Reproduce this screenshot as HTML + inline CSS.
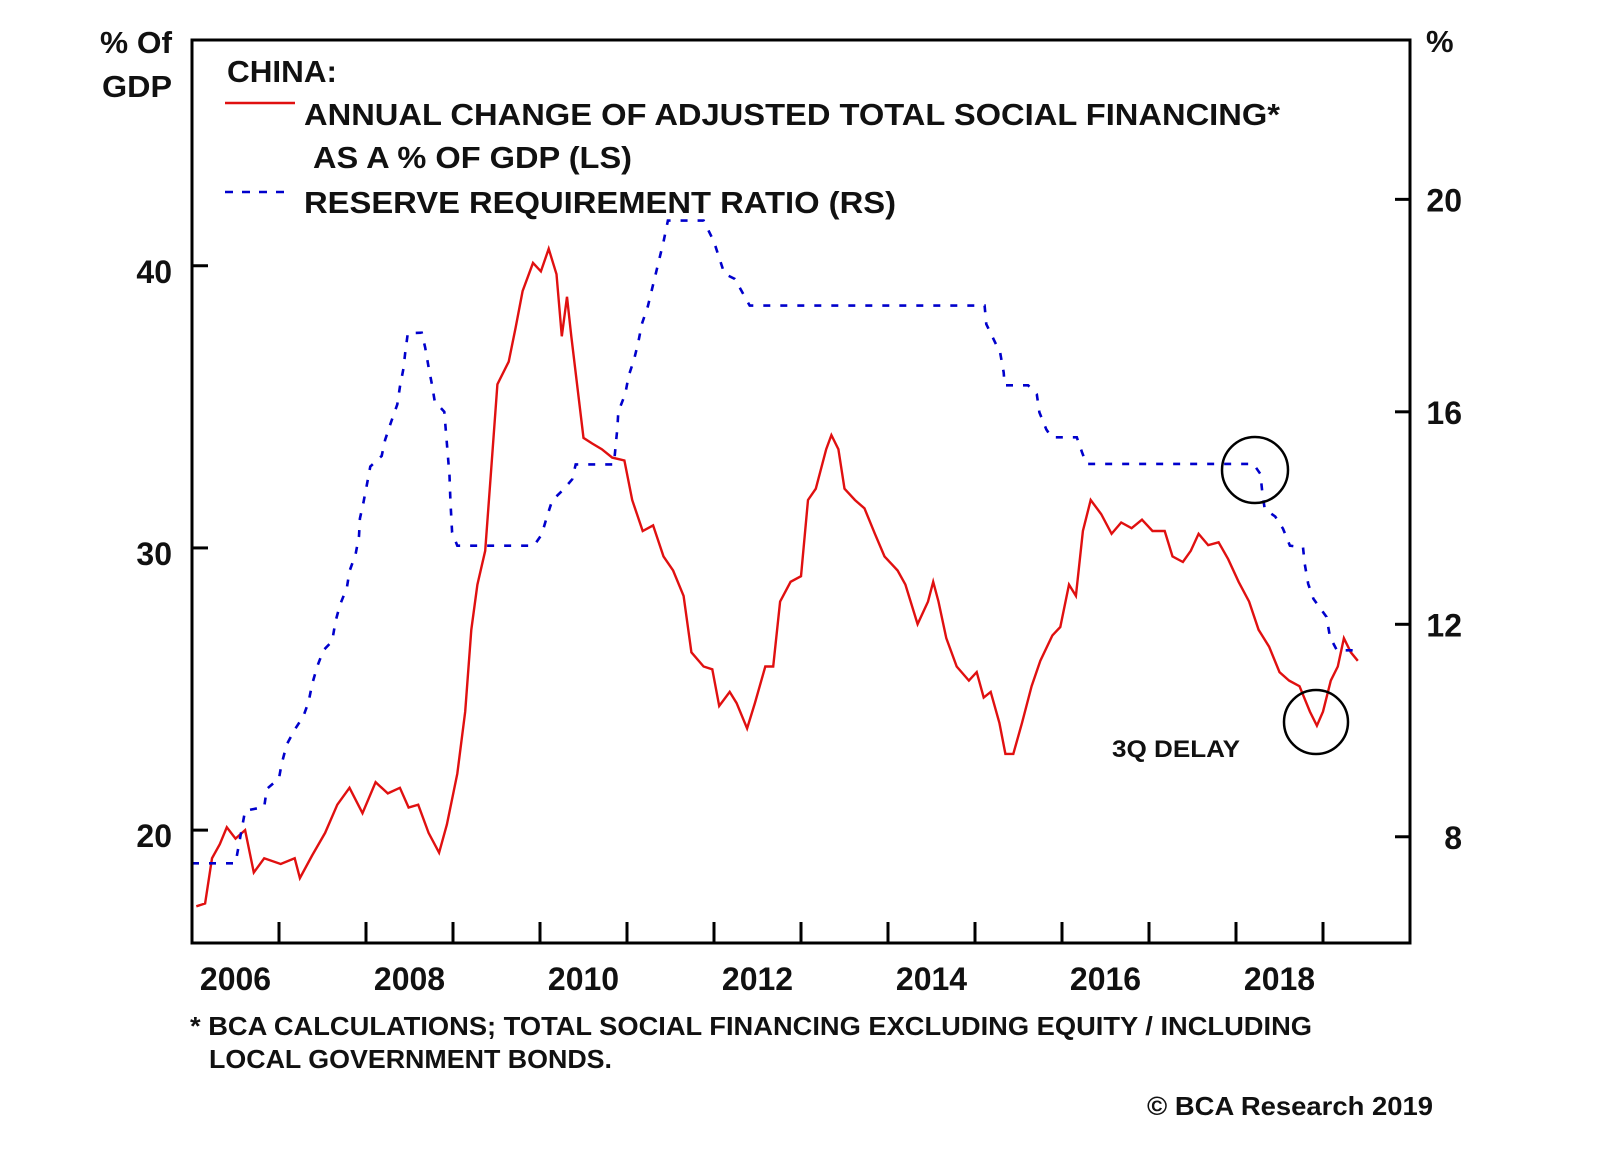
<!DOCTYPE html>
<html><head><meta charset="utf-8"><title>China TSF vs RRR</title>
<style>
html,body{margin:0;padding:0;background:#fff;}
svg{display:block;font-family:"Liberation Sans",Arial,sans-serif;}
</style></head>
<body>
<svg id="chart" width="1600" height="1152" viewBox="0 0 1600 1152">
  <rect x="0" y="0" width="1600" height="1152" fill="#fff"/>
  <g id="marks"></g>
  <rect x="192" y="40" width="1218" height="903" fill="none" stroke="#000" stroke-width="3"/>
  <g id="axes"></g>
  <text x="172" y="53" text-anchor="end" font-size="31" font-weight="bold" fill="#111" textLength="72" lengthAdjust="spacingAndGlyphs">% Of</text>
  <text x="172" y="97" text-anchor="end" font-size="31" font-weight="bold" fill="#111" textLength="70" lengthAdjust="spacingAndGlyphs">GDP</text>
  <text x="1426" y="52" font-size="31" font-weight="bold" fill="#111">%</text>
  <g>
    <text x="227" y="82" font-size="31" font-weight="bold" fill="#111" textLength="110" lengthAdjust="spacingAndGlyphs">CHINA:</text>
    <line x1="225" y1="103" x2="295" y2="103" stroke="#e01010" stroke-width="2.5"/>
    <text x="304" y="125" font-size="31" font-weight="bold" fill="#111" textLength="976" lengthAdjust="spacingAndGlyphs">ANNUAL CHANGE OF ADJUSTED TOTAL SOCIAL FINANCING*</text>
    <text x="313" y="168" font-size="31" font-weight="bold" fill="#111" textLength="319" lengthAdjust="spacingAndGlyphs">AS A % OF GDP (LS)</text>
    <line x1="225" y1="192" x2="292" y2="192" stroke="#0000cc" stroke-width="2.5" stroke-dasharray="8,9"/>
    <text x="304" y="213" font-size="31" font-weight="bold" fill="#111" textLength="592" lengthAdjust="spacingAndGlyphs">RESERVE REQUIREMENT RATIO (RS)</text>
  </g>
  <circle cx="1255" cy="470" r="33" fill="none" stroke="#000" stroke-width="2.5"/>
  <circle cx="1316" cy="722" r="32" fill="none" stroke="#000" stroke-width="2.5"/>
  <text x="1112" y="757" font-size="24" font-weight="bold" fill="#111" textLength="128" lengthAdjust="spacingAndGlyphs">3Q DELAY</text>
  <text x="190" y="1035" font-size="26" font-weight="bold" fill="#111" textLength="1122" lengthAdjust="spacingAndGlyphs">* BCA CALCULATIONS; TOTAL SOCIAL FINANCING EXCLUDING EQUITY / INCLUDING</text>
  <text x="209" y="1068" font-size="26" font-weight="bold" fill="#111" textLength="403" lengthAdjust="spacingAndGlyphs">LOCAL GOVERNMENT BONDS.</text>
  <text x="1147" y="1115" font-size="26" font-weight="bold" fill="#111" textLength="286" lengthAdjust="spacingAndGlyphs">© BCA Research 2019</text>
</svg>
<script>
const tsfDates = [2006.05,2006.15,2006.23,2006.32,2006.40,2006.50,2006.61,2006.71,2006.83,2007.02,2007.18,2007.24,2007.38,2007.53,2007.67,2007.81,2007.96,2008.11,2008.25,2008.39,2008.49,2008.60,2008.72,2008.84,2008.93,2009.05,2009.14,2009.21,2009.28,2009.37,2009.43,2009.51,2009.64,2009.72,2009.80,2009.92,2010.01,2010.10,2010.19,2010.25,2010.31,2010.36,2010.43,2010.50,2010.60,2010.71,2010.83,2010.97,2011.06,2011.18,2011.30,2011.42,2011.53,2011.65,2011.74,2011.88,2011.98,2012.06,2012.18,2012.26,2012.38,2012.47,2012.59,2012.68,2012.76,2012.88,2013.00,2013.08,2013.17,2013.29,2013.35,2013.43,2013.50,2013.62,2013.73,2013.85,2013.96,2014.11,2014.20,2014.34,2014.46,2014.52,2014.58,2014.67,2014.79,2014.93,2015.02,2015.10,2015.18,2015.28,2015.35,2015.44,2015.54,2015.65,2015.75,2015.89,2015.98,2016.08,2016.16,2016.24,2016.33,2016.45,2016.57,2016.68,2016.80,2016.92,2017.04,2017.18,2017.27,2017.39,2017.48,2017.57,2017.68,2017.80,2017.91,2018.03,2018.15,2018.26,2018.38,2018.50,2018.61,2018.73,2018.85,2018.93,2019.00,2019.09,2019.17,2019.24,2019.32,2019.40];
const tsfValues = [17.3,17.4,19.0,19.5,20.1,19.7,20.0,18.5,19.0,18.8,19.0,18.3,19.1,19.9,20.9,21.5,20.6,21.7,21.3,21.5,20.8,20.9,19.9,19.2,20.2,22.0,24.2,27.1,28.7,29.9,32.4,35.8,36.6,37.8,39.1,40.1,39.8,40.6,39.7,37.5,38.9,37.5,35.7,33.9,33.7,33.5,33.2,33.1,31.7,30.6,30.8,29.7,29.2,28.3,26.3,25.8,25.7,24.4,24.9,24.5,23.6,24.5,25.8,25.8,28.1,28.8,29.0,31.7,32.1,33.5,34.0,33.5,32.1,31.7,31.4,30.5,29.7,29.2,28.7,27.3,28.1,28.8,28.1,26.8,25.8,25.3,25.6,24.7,24.9,23.8,22.7,22.7,23.8,25.1,26.0,26.9,27.2,28.7,28.3,30.6,31.7,31.2,30.5,30.9,30.7,31.0,30.6,30.6,29.7,29.5,29.9,30.5,30.1,30.2,29.6,28.8,28.1,27.1,26.5,25.6,25.3,25.1,24.2,23.7,24.2,25.3,25.8,26.8,26.3,26.0];
const rrrDates = [2006.00,2006.50,2006.61,2006.83,2006.86,2007.00,2007.03,2007.09,2007.19,2007.28,2007.34,2007.38,2007.44,2007.51,2007.61,2007.65,2007.70,2007.78,2007.81,2007.88,2007.92,2007.93,2007.97,2008.01,2008.05,2008.18,2008.22,2008.28,2008.36,2008.39,2008.43,2008.45,2008.48,2008.64,2008.68,2008.72,2008.76,2008.79,2008.90,2008.93,2008.96,2008.97,2008.99,2009.05,2009.93,2010.02,2010.08,2010.14,2010.27,2010.37,2010.41,2010.85,2010.87,2010.89,2010.90,2010.98,2011.02,2011.08,2011.13,2011.17,2011.24,2011.42,2011.47,2011.88,2012.00,2012.12,2012.24,2012.41,2015.11,2015.13,2015.29,2015.33,2015.34,2015.61,2015.71,2015.74,2015.82,2015.88,2016.17,2016.23,2016.28,2018.20,2018.28,2018.30,2018.33,2018.45,2018.54,2018.62,2018.77,2018.79,2018.83,2018.89,2019.04,2019.08,2019.16,2019.43];
const rrrValues = [7.5,7.5,8.49,8.56,8.9,9.1,9.37,9.74,10.04,10.27,10.54,10.87,11.21,11.51,11.68,12.06,12.36,12.69,13.0,13.32,13.66,13.99,14.29,14.63,14.97,15.17,15.47,15.77,16.14,16.47,16.81,17.11,17.48,17.49,17.21,16.84,16.5,16.2,16.0,15.4,14.8,14.33,13.73,13.48,13.48,13.69,14.03,14.33,14.54,14.73,15.01,15.01,15.37,15.7,16.0,16.34,16.68,16.98,17.31,17.65,17.99,19.2,19.6,19.6,19.2,18.6,18.5,18.0,18.0,17.65,17.11,16.74,16.5,16.5,16.33,15.99,15.67,15.52,15.52,15.24,15.02,15.02,14.83,14.52,14.17,14.03,13.8,13.48,13.45,13.14,12.76,12.48,12.14,11.76,11.51,11.51];
const leftTicks = [20,30,40];
const rightTicks = [8,12,16,20];
const yearTicks = [2007,2008,2009,2010,2011,2012,2013,2014,2015,2016,2017,2018,2019];
const yearLabels = [2006,2008,2010,2012,2014,2016,2018];

const X0=192, X1=1410, Y0=40, Y1=943;
const xDom=[2006,2020], lDom=[16,48], rDom=[6,23];
function xScale(t){return X0+(t-xDom[0])/(xDom[1]-xDom[0])*(X1-X0);}
function yLeft(v){return Y1-(v-lDom[0])/(lDom[1]-lDom[0])*(Y1-Y0);}
function yRight(v){return Y1-(v-rDom[0])/(rDom[1]-rDom[0])*(Y1-Y0);}
const NS="http://www.w3.org/2000/svg";
function mk(tag,attrs,parent){const e=document.createElementNS(NS,tag);for(const k in attrs)e.setAttribute(k,attrs[k]);parent.appendChild(e);return e;}
const marks=document.getElementById('marks');
const axes=document.getElementById('axes');

let d=tsfDates.map((t,i)=>(i?'L':'M')+xScale(t).toFixed(1)+','+yLeft(tsfValues[i]).toFixed(1)).join(' ');
const red=mk('path',{d:d,fill:'none',stroke:'#e01010','stroke-width':2.4,'stroke-linejoin':'miter'},marks);



d=rrrDates.map((t,i)=>(i?'L':'M')+xScale(t).toFixed(1)+','+yRight(rrrValues[i]).toFixed(1)).join(' ');
const blue=mk('path',{d:d,fill:'none',stroke:'#0000cc','stroke-width':2.6,'stroke-dasharray':'7,10'},marks);



leftTicks.forEach(v=>{
  const y=yLeft(v);
  const tk=mk('line',{x1:X0,y1:y,x2:X0+16,y2:y,stroke:'#000','stroke-width':3},axes);
  
  
  const tx=mk('text',{x:172,y:y+17,'text-anchor':'end','font-size':32,'font-weight':'bold',fill:'#111'},axes);
  tx.textContent=v;
  
  
});
rightTicks.forEach(v=>{
  const y=yRight(v);
  const tk=mk('line',{x1:X1-15,y1:y,x2:X1,y2:y,stroke:'#000','stroke-width':3},axes);
  
  
  const tx=mk('text',{x:1462,y:y+12,'text-anchor':'end','font-size':32,'font-weight':'bold',fill:'#111'},axes);
  tx.textContent=v;
  
  
});
yearTicks.forEach(t=>{
  const x=xScale(t);
  const tk=mk('line',{x1:x,y1:Y1,x2:x,y2:Y1-21,stroke:'#000','stroke-width':3},axes);
  
  
});
yearLabels.forEach(t=>{
  const tx=mk('text',{x:xScale(t+0.5),y:990,'text-anchor':'middle','font-size':32,'font-weight':'bold',fill:'#111'},axes);
  tx.textContent=t;
  
  
});
</script>
</body></html>
